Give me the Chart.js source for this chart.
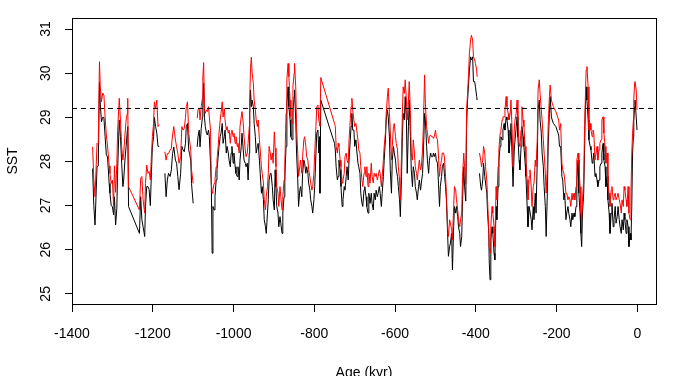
<!DOCTYPE html>
<html>
<head>
<meta charset="utf-8">
<script src="https://cdn.jsdelivr.net/npm/chart.js@4/dist/chart.umd.min.js"></script>
<style>
  html, body { margin: 0; padding: 0; background: #fff; }
  canvas { display: block; }
</style>
</head>
<body>
<canvas id="sst" width="674" height="376"></canvas>
<script>
// Age in kyr (negative = before present); null values in the series mark gaps in the record
const ages = [
  -1349, -1346, -1343, -1338, -1335, -1332, -1330, -1327, -1324, -1321, -1318, -1315, -1312, -1308, -1306, -1303,
  -1300, -1297, -1295, -1292, -1289, -1287, -1283, -1280, -1277, -1274, -1272, -1269, -1266, -1263, -1262, -1260,
  -1233, -1230, -1227, -1224, -1220, -1218, -1215, -1212, -1209, -1206, -1204, -1201, -1198, -1196, -1193, -1190,
  -1187, -1184, -1177, -1170, -1167, -1164, -1161, -1157, -1154, -1151, -1148, -1144, -1141, -1138, -1135,
  -1131, -1128, -1125, -1122, -1119, -1117, -1114, -1111, -1109, -1106, -1104, -1100, -1095, -1090, -1088, -1085,
  -1083, -1080, -1077, -1076, -1074, -1072, -1070, -1067, -1065, -1062, -1060, -1057, -1055, -1053, -1051, -1048,
  -1046, -1043, -1041, -1038, -1036, -1033, -1031, -1028, -1026, -1023, -1021, -1018, -1016, -1013, -1011, -1008,
  -1006, -1004, -1001, -999, -996, -994, -991, -989, -986, -984, -981, -979, -976, -974, -971, -969,
  -966, -964, -961, -960, -958, -956, -954, -951, -949, -946, -944, -941, -939, -936, -934, -931,
  -929, -926, -924, -921, -919, -916, -914, -912, -909, -907, -904, -902, -899,
  -897, -895, -893, -890, -888, -885, -883, -880, -878, -875, -873, -870, -868, -865, -863, -860,
  -858, -855, -853, -850, -849, -846, -844, -841, -839, -836, -834, -831, -829, -826, -824, -821,
  -819, -816, -814, -811, -809, -806, -804, -801, -799, -796, -794, -791, -789, -787, -786, -784,
  -750, -748, -746, -743, -741, -739, -736, -734, -731, -729, -726, -724, -721, -719, -716, -714,
  -711, -709, -707, -705, -702, -700, -697, -695, -692, -690, -687, -685, -682, -680, -677, -675,
  -672, -670, -667, -665, -662,
  -659, -657, -654, -652, -649, -647, -644, -642, -639, -637, -634, -632, -629, -627, -624, -622,
  -619, -617, -614, -612, -609, -607, -604, -602, -599, -597, -594, -592, -589, -587, -584, -582,
  -580, -577, -575, -572, -570, -567, -565, -562, -560, -557, -555, -552, -550, -547, -545, -542,
  -540, -537, -535, -532, -530, -527, -525, -522, -520, -517, -515, -512, -510, -507, -505, -503,
  -500, -498, -495, -493, -490, -488, -485, -483, -480, -478, -475, -473, -470, -468, -465, -463,
  -460, -458, -455, -453, -450, -448, -445, -443, -440, -438, -435, -433, -430, -428,
  -425, -423, -421, -418, -416, -413, -411, -408, -406, -403, -401, -398, -397, -394, -391, -388,
  -386, -383, -381, -378, -376, -373, -371, -368, -367, -365, -363, -360, -358, -355, -353, -350,
  -348, -345, -343, -340, -338, -335, -333, -330, -328, -325, -323, -320, -318, -315, -313, -310,
  -308, -305, -303, -300, -298, -296, -293, -291, -288, -286, -283, -281, -278, -276, -273, -271,
  -268, -266, -263, -261, -258, -256, -253, -251, -248, -246, -243, -241, -238, -236, -233, -231,
  -228, -226, -223, -221, -218, -216, -213, -211, -208, -202, -195, -193,
  -190, -187, -185, -182, -180, -177, -175, -172, -170, -167, -165, -162, -160, -157, -155, -152,
  -150, -147, -145, -142, -140, -138, -136, -133, -131, -129, -127, -125, -122, -120, -117, -115,
  -112, -110, -108, -105, -103, -100, -98, -95, -93, -90, -88, -85, -83, -80, -78, -75,
  -73, -70, -68, -65, -63, -60, -58, -55, -53, -50, -48, -45, -43, -40, -38, -35,
  -33, -31, -28, -26, -23, -21, -18, -16, -14, -12, -10, -9, -7, -6, -3, -1
];

const sstBlack = [
  27.84, 27.0, 26.56, 27.88, 27.9, 29.8, 29.3, 28.9, 29.0, 29.0, 28.56, 28.15, 28.1, 27.5, 27.28, 27.0,
  26.98, 26.79, 27.2, 26.56, 26.94, 27.8, 28.94, 28.56, 27.96, 27.43, 27.58, 28.03, 28.34, 28.71, 28.79, 26.98,
  26.37, 27.2, 26.68, 26.52, 26.3, 26.98, 27.43, 27.43, 27.36, 27.0, 27.58, 28.33, 28.56, 29.0, 28.79, 28.64,
  28.34, 28.34, null, 27.73, 27.2, 27.58, 27.73, 27.66, 27.81, 28.18, 28.33, 28.03, 27.96, 27.66, 27.36,
  27.73, 28.34, 28.26, 28.22, 28.41, 28.79, 28.86, 28.26, 28.18, 28.03, 27.5, 27.05, null, 28.33, 28.56, 28.71,
  28.33, 28.75, 29.0, 29.39, 29.77, 29.0, 28.79, 28.64, 28.6, 28.71, 28.56, 27.96, 27.43, 25.92, 26.98, 26.9,
  27.2, 27.58, 27.81, 28.11, 28.34, 28.56, 28.64, 28.86, 28.41, 28.56, 28.71, 28.19, 28.34, 28.19, 28.03, 27.88,
  28.19, 28.34, 27.96, 28.19, 27.88, 27.73, 27.66, 27.88, 27.58, 28.03, 28.34, 28.64, 28.26, 28.03, 27.96, 27.88,
  27.96, 27.58, 28.19, 29.09, 29.62, 29.24, 29.39, 29.24, 28.86, 28.56, 28.19, 28.34, 28.41, 28.03, 27.73, 27.28,
  27.43, 27.13, 26.68, 26.52, 26.37, 26.83, 27.13, 27.58, 27.73, 27.73, 27.43, 27.13, 26.9,
  27.81, 27.43, 26.98, 26.83, 26.52, 26.75, 26.6, 26.37, 26.83, 27.2, 27.66, 28.34, 29.32, 29.69, 29.24, 28.94,
  28.56, 28.49, 29.09, 29.47, 29.62, 28.94, 28.19, 27.58, 26.98, 27.35, 27.43, 27.2, 27.73, 28.03, 27.96, 27.73,
  27.88, 27.73, 27.51, 27.35, 27.13, 26.98, 26.83, 27.13, 27.43, 28.19, 28.64, 28.71, 28.19, 28.56, 27.28, 29.39,
  28.41, 28.26, 27.88, 27.58, 27.66, 28.03, 27.81, 27.43, 26.98, 27.13, 27.43, 27.35, 27.66, 27.88, 27.58, 28.03,
  28.49, 28.79, 29.09, 28.71, 28.71, 28.34, 28.49, 28.26, 27.96, 27.88, 27.73, 27.28, 27.05, 26.98, 27.35, 27.43,
  27.2, 26.98, 26.83, 27.28, 27.05,
  27.28, 27.05, 26.9, 27.28, 27.13, 27.35, 27.2, 27.28, 27.43, 27.28, 26.98, 27.28, 27.66, 28.03, 28.49, 28.94,
  29.17, 29.01, 28.56, 27.81, 27.28, 28.03, 28.34, 28.19, 28.03, 27.81, 27.66, 27.43, 27.13, 26.75, 27.66, 28.56,
  29.09, 28.94, 29.47, 28.94, 27.73, 28.79, 29.39, 28.56, 27.81, 27.43, 27.88, 27.73, 27.43, 27.28, 27.13, 27.43,
  27.58, 27.35, 27.51, 27.73, 28.19, 29.09, 28.94, 28.34, 28.03, 27.73, 28.03, 28.19, 28.11, 28.11, 28.19, 28.11,
  28.19, 28.03, 27.96, 27.58, 26.98, 27.43, 27.66, 27.88, 27.96, 27.73, 27.43, 27.13, 26.37, 25.85, 26.07, 26.15,
  26.37, 25.54, 26.52, 26.98, 26.83, 26.98, 26.75, 26.52, 26.37, 26.07, 26.3, 27.13, 27.88, 27.43,
  27.1, 28.79, 29.32, 29.77, 30.07, 30.37, 30.3, 30.37, 29.81, 29.81, 29.69, 29.47, 29.39, null, 27.73, 27.43,
  27.35, 27.58, 27.96, 27.66, 27.51, 27.28, 26.83, 26.37, 25.77, 25.32, 26.22, 26.52, 26.37, 25.92, 25.77, 26.98,
  26.68, 27.43, 28.03, 28.34, 28.56, 28.49, 28.71, 28.86, 28.71, 29.01, 28.94, 28.71, 28.19, 28.49, 28.86, 28.03,
  27.43, 28.26, 28.49, 28.79, 29.01, 28.56, 28.03, 27.81, 28.34, 28.79, 28.56, 28.34, 27.96, 27.66, 26.98, 26.52,
  26.98, 26.98, 26.68, 26.45, 26.98, 26.68, 27.28, 26.83, 28.03, 29.17, 29.39, 28.94, 28.64, 28.19, 27.88, 27.43,
  26.98, 26.3, 27.28, 28.34, 29.09, 29.47, 29.01, 28.94, 28.86, 28.79, 28.6, 28.34,
  28.34, 27.66, 27.58, 27.13, 27.28, 26.68, 26.83, 26.98, 26.83, 26.68, 26.52, 26.83, 26.68, 26.83, 26.75, 26.98,
  27.58, 28.03, 27.28, 26.83, 26.37, 26.07, 26.83, 27.28, 28.19, 29.17, 29.69, 29.39, 28.94, 28.49, 28.34, 28.26,
  27.96, 28.03, 28.19, 27.66, 27.73, 27.58, 27.43, 27.58, 27.88, 27.96, 28.19, 28.41, 28.03, 27.88, 27.43, 27.66,
  27.13, 26.83, 26.37, 26.83, 27.05, 26.52, 26.68, 26.98, 26.6, 26.75, 26.98, 26.68, 26.52, 26.37, 26.68, 26.45,
  26.83, 26.68, 26.37, 26.68, 26.52, 26.07, 26.37, 26.22, 26.98, 28.19, 28.56, 28.94, 29.24, 29.39, 29.01, 28.71
];

const sstRed = [
  28.33, 27.6, 27.2, 28.41, 28.38, 30.26, 29.7, 29.35, 29.55, 29.5, 29.0, 28.6, 28.35, 27.9, 27.73, 27.5,
  27.58, 27.0, 27.9, 27.3, 27.95, 28.7, 29.43, 28.94, 28.33, 28.03, 28.18, 28.6, 28.94, 29.09, 29.43, 27.43,
  26.9, 27.62, 27.66, 27.13, 26.83, 27.5, 27.92, 27.73, 27.77, 27.58, 28.0, 28.56, 28.86, 29.35, 29.2, 29.39,
  28.79, 28.83, null, 28.22, 28.03, 28.18, 28.18, 28.26, 28.3, 28.6, 28.79, 28.49, 28.33, 28.18, 27.96,
  28.11, 28.79, 28.71, 28.75, 29.0, 29.24, 29.35, 28.64, 28.49, 28.26, 27.81, 27.5, null, 28.98, 29.17, 29.2,
  28.94, 29.24, 29.43, 29.92, 30.24, 29.17, 29.09, 29.17, 29.13, 29.24, 29.01, 28.71, 27.5, 27.28, 27.36, 27.5,
  27.58, 27.88, 28.03, 28.34, 28.64, 28.94, 29.09, 29.35, 29.01, 29.2, 28.94, 28.71, 28.79, 28.64, 28.71, 28.41,
  28.64, 28.71, 28.56, 28.64, 28.41, 28.56, 28.34, 28.41, 28.19, 28.79, 29.01, 29.13, 28.86, 28.56, 28.26, 28.11,
  28.19, 28.41, 28.79, 29.39, 30.11, 30.36, 30.0, 29.77, 29.39, 29.17, 28.94, 28.79, 28.94, 28.49, 28.26, 27.88,
  27.73, 27.51, 27.13, 26.9, 27.2, 27.43, 27.73, 28.34, 28.19, 28.03, 28.19, 27.96, 28.67,
  28.3, 27.88, 27.43, 27.28, 26.98, 27.43, 27.2, 26.9, 27.2, 27.58, 27.96, 29.09, 29.85, 30.22, 29.92, 29.39,
  29.01, 28.86, 29.69, 30.0, 30.22, 29.69, 28.79, 28.19, 27.66, 27.88, 28.03, 27.73, 28.11, 28.49, 28.56, 28.34,
  28.11, 28.03, 27.81, 27.66, 27.51, 27.35, 27.43, 27.73, 28.19, 28.79, 29.24, 29.28, 28.94, 28.86, 28.8, 29.9,
  28.86, 28.79, 28.34, 28.19, 28.41, 28.34, 28.03, 27.88, 27.51, 27.58, 27.73, 28.11, 28.19, 28.03, 27.96, 28.49,
  28.94, 29.24, 29.43, 29.17, 28.94, 28.79, 28.86, 28.71, 28.49, 28.26, 28.19, 27.88, 27.58, 27.43, 27.73, 27.88,
  27.66, 27.88, 27.43, 27.73, 27.51,
  27.96, 27.66, 27.51, 27.73, 27.66, 27.73, 27.58, 27.66, 27.81, 27.73, 27.43, 27.66, 28.03, 28.34, 28.64, 29.09,
  29.47, 29.66, 29.09, 28.71, 28.03, 28.34, 28.79, 28.86, 28.56, 28.41, 28.26, 27.88, 27.58, 27.13, 28.19, 29.09,
  29.69, 29.54, 29.85, 29.39, 28.94, 29.39, 29.81, 29.09, 28.19, 28.03, 28.49, 28.19, 27.88, 27.73, 27.58, 27.88,
  28.03, 27.81, 27.88, 28.26, 28.79, 29.96, 29.32, 28.79, 28.64, 28.41, 28.56, 28.6, 28.56, 28.56, 28.52, 28.56,
  28.71, 28.56, 28.49, 28.19, 27.66, 27.88, 28.03, 28.19, 28.19, 28.11, 27.66, 27.28, 26.52, 26.3, 26.68, 26.6,
  26.45, 26.22, 26.98, 27.43, 27.35, 27.13, 26.9, 26.68, 26.52, 26.68, 26.83, 27.66, 28.19, 27.88,
  27.5, 29.17, 29.47, 30.0, 30.45, 30.75, 30.86, 30.75, 30.37, 30.3, 30.22, 30.07, 29.92, null, 28.19, 28.03,
  27.88, 28.03, 28.34, 28.19, 27.88, 27.58, 27.13, 26.45, 26.07, 25.92, 26.52, 26.98, 26.83, 26.52, 26.07, 27.43,
  27.13, 27.88, 28.26, 28.64, 28.71, 28.94, 29.01, 29.01, 29.17, 29.47, 29.24, 29.09, 28.94, 29.09, 29.39, 28.64,
  27.88, 28.71, 28.94, 29.09, 29.39, 28.94, 28.41, 28.34, 28.71, 29.24, 28.94, 28.79, 28.34, 27.96, 27.58, 27.13,
  27.66, 27.81, 27.43, 26.98, 27.43, 27.51, 28.03, 27.88, 28.49, 29.62, 29.85, 29.54, 29.17, 28.94, 28.49, 28.19,
  27.73, 27.28, 27.88, 28.79, 29.47, 29.73, 29.39, 29.32, 29.24, 29.13, 28.94, 28.71,
  28.86, 27.96, 27.81, 27.73, 27.58, 27.28, 27.28, 27.13, 27.2, 27.13, 26.98, 27.28, 27.13, 27.28, 27.13, 27.43,
  28.03, 28.19, 27.96, 27.43, 26.83, 26.68, 27.13, 27.58, 28.71, 29.39, 30.07, 30.15, 29.69, 28.71, 28.86, 28.71,
  28.56, 28.71, 28.64, 28.03, 28.03, 28.34, 28.03, 28.26, 28.41, 28.49, 28.94, 29.01, 28.64, 28.34, 27.96, 28.19,
  27.51, 27.28, 26.98, 27.35, 27.43, 27.13, 27.2, 27.28, 27.13, 27.2, 27.28, 27.13, 27.05, 26.83, 27.13, 26.98,
  27.43, 27.35, 27.13, 26.98, 27.43, 26.83, 26.68, 27.28, 28.19, 28.64, 28.94, 29.39, 29.77, 29.81, 29.62, 29.17
];

const refLevel = 29.2;
const xTicks = [-1400, -1200, -1000, -800, -600, -400, -200, 0];
const yTicks = [25, 26, 27, 28, 29, 30, 31];
const xMin = -1400, xMax = 46;
const yMin = 24.77, yMax = 31.25;

const FONT = '"Liberation Sans", Arial, sans-serif';

const toPoints = vals => ages.map((a, i) => ({ x: a, y: vals[i] }));

// R-style frame, rotated y labels and axis titles
const rFrame = {
  id: 'rFrame',
  afterDraw(chart) {
    const { ctx, chartArea: a, scales: { y } } = chart;
    ctx.save();
    ctx.strokeStyle = '#000';
    ctx.lineWidth = 1;
    ctx.strokeRect(Math.round(a.left) + 0.5, Math.round(a.top) + 0.5,
      Math.round(a.right - a.left), Math.round(a.bottom - a.top));

    ctx.fillStyle = '#000';
    ctx.font = '14px ' + FONT;
    ctx.textAlign = 'center';
    ctx.textBaseline = 'middle';
    yTicks.forEach(v => {
      ctx.save();
      ctx.translate(46, y.getPixelForValue(v));
      ctx.rotate(-Math.PI / 2);
      ctx.fillText(String(v), 0, 0);
      ctx.restore();
    });

    ctx.save();
    ctx.translate(13, (a.top + a.bottom) / 2);
    ctx.rotate(-Math.PI / 2);
    ctx.fillText('SST', 0, 0);
    ctx.restore();

    ctx.fillText('Age (kyr)', (a.left + a.right) / 2, 373);
    ctx.restore();
  }
};

new Chart(document.getElementById('sst'), {
  type: 'line',
  data: {
    datasets: [
      {
        label: 'SST (red)',
        data: toPoints(sstRed),
        borderColor: '#ff0000',
        borderWidth: 1,
        pointRadius: 0,
        tension: 0,
        spanGaps: false,
        order: 1
      },
      {
        label: 'SST (black)',
        data: toPoints(sstBlack),
        borderColor: '#000000',
        borderWidth: 1,
        pointRadius: 0,
        tension: 0,
        spanGaps: false,
        order: 2
      },
      {
        label: 'reference',
        data: [{ x: xMin, y: refLevel }, { x: xMax, y: refLevel }],
        borderColor: '#000000',
        borderWidth: 1,
        borderDash: [5, 4],
        pointRadius: 0,
        order: 0
      }
    ]
  },
  options: {
    responsive: false,
    animation: false,
    devicePixelRatio: 1,
    layout: { padding: { top: 18, right: 18, left: 0, bottom: 0 } },
    plugins: { legend: { display: false }, tooltip: { enabled: false } },
    scales: {
      x: {
        type: 'linear',
        min: xMin,
        max: xMax,
        afterBuildTicks: s => { s.ticks = xTicks.map(v => ({ value: v })); },
        afterFit: s => { s.height = 72; },
        grid: { display: true, drawOnChartArea: false, drawTicks: true, tickLength: 8, color: '#000' },
        border: { display: false },
        ticks: {
          color: '#000',
          font: { family: FONT, size: 14 },
          padding: 14,
          maxRotation: 0,
          callback: v => String(v)
        }
      },
      y: {
        type: 'linear',
        min: yMin,
        max: yMax,
        afterBuildTicks: s => { s.ticks = yTicks.map(v => ({ value: v })); },
        afterFit: s => { s.width = 72; },
        grid: { display: true, drawOnChartArea: false, drawTicks: true, tickLength: 7, color: '#000' },
        border: { display: false },
        ticks: { display: false }
      }
    }
  },
  plugins: [rFrame]
});
</script>
</body>
</html>
